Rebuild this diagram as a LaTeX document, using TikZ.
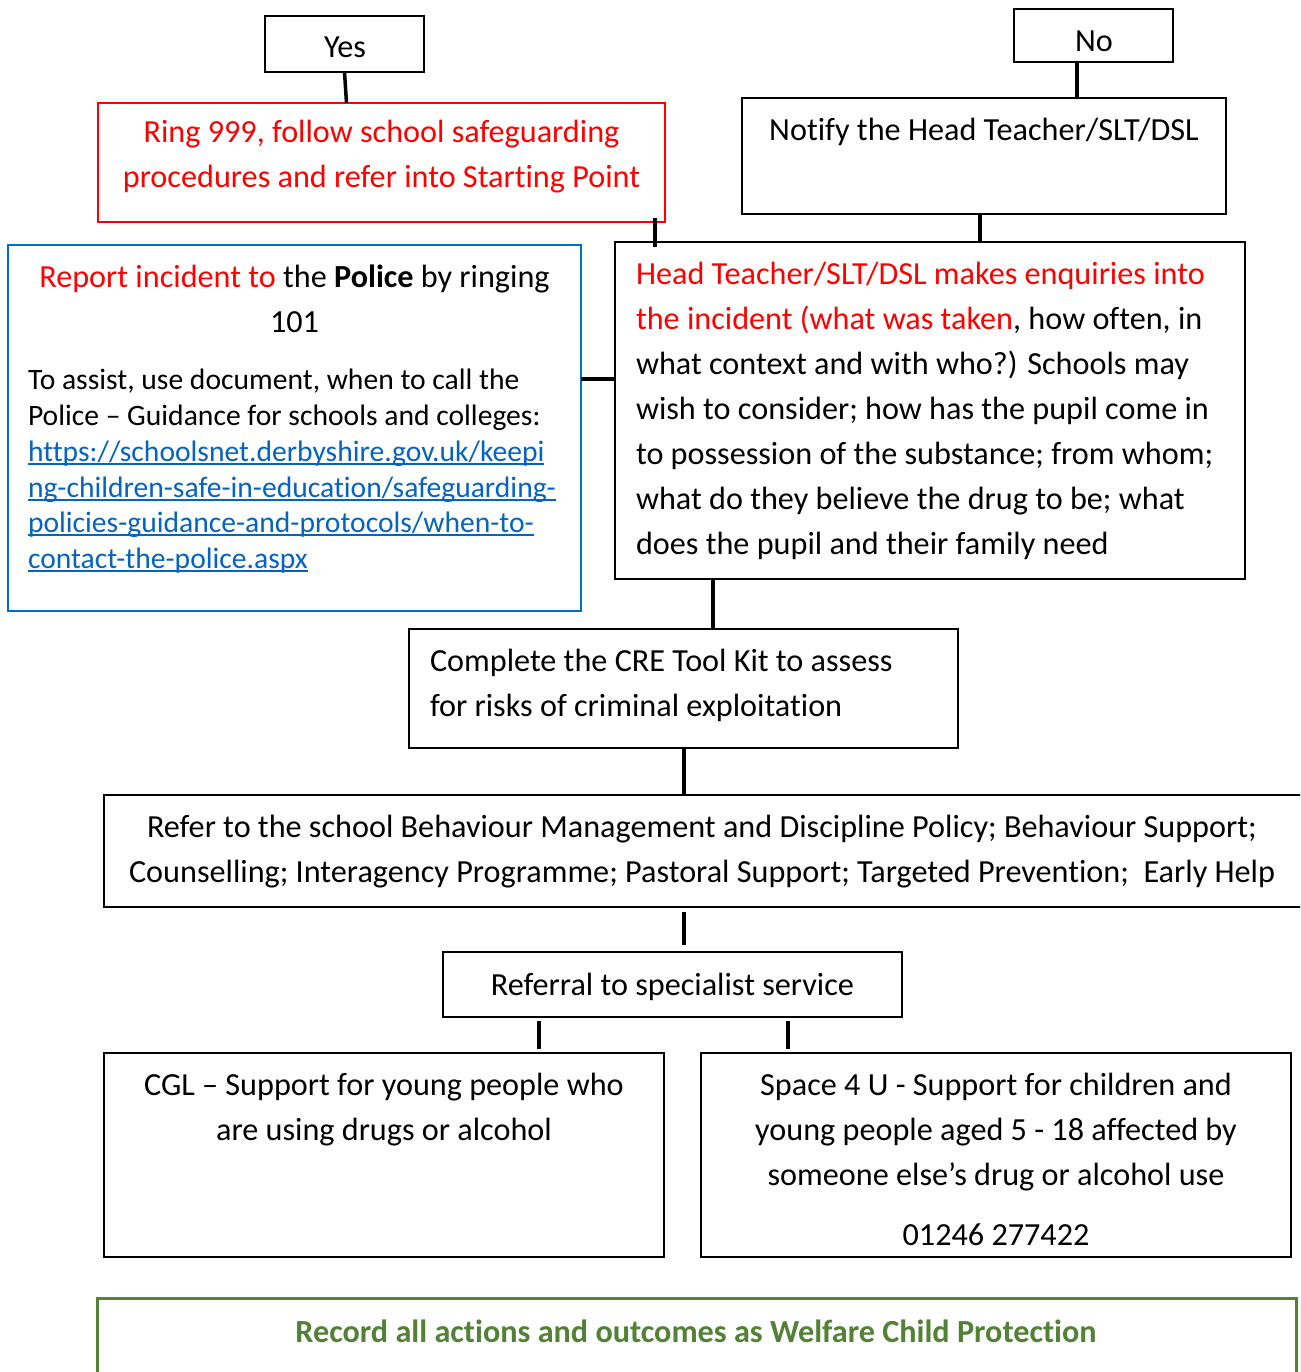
\documentclass[tikz,border=0pt]{standalone}
\usepackage{fontspec}
\setmainfont{Carlito}[Ligatures={NoCommon}]
\definecolor{redT}{HTML}{FF0000}
\definecolor{linkblue}{HTML}{0563C1}
\definecolor{boxblue}{HTML}{0070C0}
\definecolor{greenT}{HTML}{538135}
\newcommand\ulk[1]{\setbox0\hbox{#1}\rlap{\rule[-0.14em]{\wd0}{0.07em}}\box0}
\tikzset{
  box/.style={draw=black, line width=2pt, inner sep=0pt, outer sep=0pt, anchor=north west},
  conn/.style={draw=black, line width=3.5pt},
  t/.style={inner sep=0pt, outer sep=0pt, anchor=base, font=\fontsize{32.2}{38}\selectfont},
  tl/.style={t, anchor=base west},
  ts/.style={inner sep=0pt, outer sep=0pt, anchor=base west, font=\fontsize{29.6}{34}\selectfont},
}
\begin{document}
\begin{tikzpicture}[x=1pt, y=-1pt]
\clip (0,0) rectangle (1300,1372);
\useasboundingbox (0,0) rectangle (1300,1372);
\fill[white] (0,0) rectangle (1300,1372);

% boxes
\node[box, minimum width=159, minimum height=56] (yes) at (265,16) {};
\node[box, minimum width=159, minimum height=53] (no) at (1014,9) {};
\node[box, draw=redT, minimum width=567, minimum height=119] (ring) at (98,103) {};
\node[box, minimum width=484, minimum height=116] (notify) at (742,98) {};
\node[box, draw=boxblue, minimum width=573, minimum height=366] (police) at (8,245) {};
\node[box, minimum width=630, minimum height=337] (head) at (615,242) {};
\node[box, minimum width=549, minimum height=119] (cre) at (409,629) {};
\node[box, minimum width=1198, minimum height=112] (refer) at (104,795) {};
\node[box, minimum width=459, minimum height=65] (referral) at (443,952) {};
\node[box, minimum width=560, minimum height=204] (cgl) at (104,1053) {};
\node[box, minimum width=590, minimum height=204] (space) at (701,1053) {};
\node[box, draw=greenT, line width=3pt, minimum width=1199, minimum height=120] (record) at (97,1298) {};

% texts
\node[t] (tyes) at (345,58) {Yes};
\node[t] (tno) at (1094,52) {No};
\node[t, text=redT] (tring1) at (381.5,143) {Ring 999, follow school safeguarding};
\node[t, text=redT] (tring2) at (381.5,188) {procedures and refer into Starting Point};
\node[t] (tnot) at (984,141) {Notify the Head Teacher/SLT/DSL};

\node[t] (tpol1) at (294.5,287) {\textcolor{redT}{Report incident to} the \textbf{Police} by ringing};
\node[t] (tpol2) at (294.5,332) {101};
\node[ts] (tpol3) at (28,389) {To assist, use document, when to call the};
\node[ts] (tpol4) at (28,425) {Police – Guidance for schools and colleges:};
\node[ts, text=linkblue] (tpol5) at (28,461) {\ulk{https://schoolsnet.derbyshire.gov.uk/keepi}};
\node[ts, text=linkblue] (tpol6) at (28,497) {\ulk{ng-children-safe-in-education/safeguarding-}};
\node[ts, text=linkblue] (tpol7) at (28,532) {\ulk{policies-guidance-and-protocols/when-to-}};
\node[ts, text=linkblue] (tpol8) at (28,568) {\ulk{contact-the-police.aspx}};

\node[tl, text=redT] (th1) at (636,284) {Head Teacher/SLT/DSL makes enquiries into};
\node[tl] (th2) at (636,329) {\textcolor{redT}{the incident (what was taken}, how often, in};
\node[tl] (th3) at (636,374) {what context and with who?) Schools may};
\node[tl] (th4) at (636,419) {wish to consider; how has the pupil come in};
\node[tl] (th5) at (636,464) {to possession of the substance; from whom;};
\node[tl] (th6) at (636,509) {what do they believe the drug to be; what};
\node[tl] (th7) at (636,554) {does the pupil and their family need};

\node[tl] (tcre1) at (430,671) {Complete the CRE Tool Kit to assess};
\node[tl] (tcre2) at (430,716) {for risks of criminal exploitation};

\node[t] (tref1) at (702,837) {Refer to the school Behaviour Management and Discipline Policy; Behaviour Support;};
\node[t] (tref2) at (702,882) {Counselling; Interagency Programme; Pastoral Support; Targeted Prevention;\ \ Early Help};

\node[t] (trefl) at (672.5,995) {Referral to specialist service};

\node[t] (tcgl1) at (384,1095) {CGL – Support for young people who};
\node[t] (tcgl2) at (384,1140) {are using drugs or alcohol};

\node[t] (tsp1) at (996,1095) {Space 4 U - Support for children and};
\node[t] (tsp2) at (996,1140) {young people aged 5 - 18 affected by};
\node[t] (tsp3) at (996,1185) {someone else’s drug or alcohol use};
\node[t] (tsp4) at (996,1245) {01246 277422};

\node[t, text=greenT, font=\fontsize{32.2}{38}\selectfont\bfseries] (trec) at (696,1342) {Record all actions and outcomes as Welfare Child Protection};

% connector x/y references
\coordinate (cx1) at (1077,0);
\coordinate (cx2) at (655,0);
\coordinate (cx3) at (980,0);
\coordinate (cy4) at (0,379);
\coordinate (cx5) at (713,0);
\coordinate (cx6) at (684,0);
\coordinate (cx7) at (539,0);
\coordinate (cx8) at (788,0);

% connectors
\draw[conn] (yes.south) -- ([xshift=2pt]ring.north -| yes.south);
\draw[conn] (no.south -| cx1) -- (notify.north -| cx1);
\draw[conn] ([yshift=4pt]ring.south -| cx2) -- ([yshift=-5pt]head.north -| cx2);
\draw[conn] (notify.south -| cx3) -- (head.north -| cx3);
\draw[conn] (police.east |- cy4) -- (head.west |- cy4);
\draw[conn] (head.south -| cx5) -- (cre.north -| cx5);
\draw[conn] (cre.south -| cx6) -- (refer.north -| cx6);
\draw[conn, shorten <=5pt, shorten >=7pt] (refer.south -| cx6) -- (referral.north -| cx6);
\draw[conn, shorten <=4pt, shorten >=4pt] (referral.south -| cx7) -- (cgl.north -| cx7);
\draw[conn, shorten <=4pt, shorten >=4pt] (referral.south -| cx8) -- (space.north -| cx8);
\end{tikzpicture}
\end{document}
